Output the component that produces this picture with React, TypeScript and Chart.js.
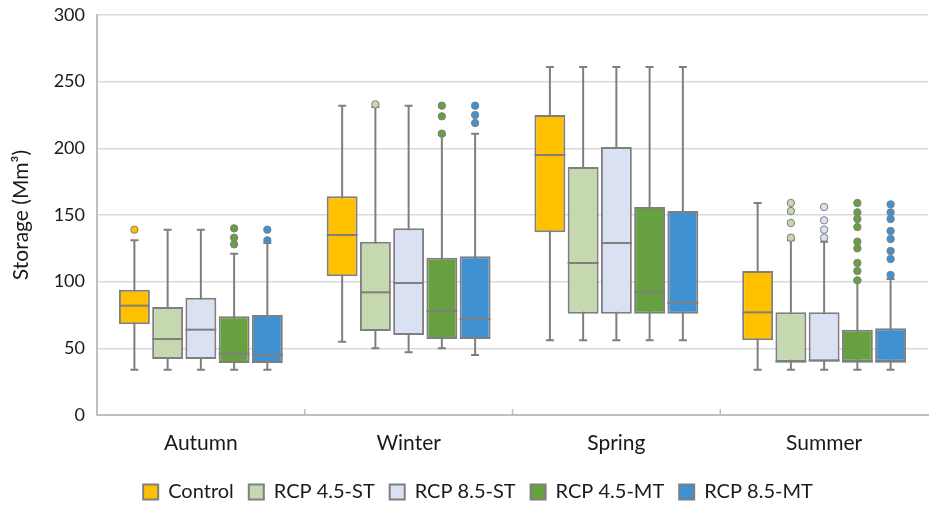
import React, { useEffect, useRef } from 'react';
import { Chart, registerables } from 'chart.js';

Chart.register(...registerables);

const categories = ['Autumn', 'Winter', 'Spring', 'Summer'];
const seriesNames = ['Control', 'RCP 4.5-ST', 'RCP 8.5-ST', 'RCP 4.5-MT', 'RCP 8.5-MT'];
const seriesColors = ['#FFC000', '#C5D8B0', '#D9E1F3', '#67A03F', '#3F91D1'];
const yTicks = [0, 50, 100, 150, 200, 250, 300];

// [min, q1, median, q3, max] for each category
const controlStats = [[34, 68, 82, 94, 131], [55, 104, 135, 164, 232], [56, 137, 195, 225, 261], [34, 56, 77, 108, 159]];
const rcp45stStats = [[34, 42, 57, 81, 139], [50, 63, 92, 130, 231], [56, 76, 114, 186, 261], [34, 40, 40, 77, 131]];
const rcp85stStats = [[34, 42, 64, 88, 139], [47, 60, 99, 140, 232], [56, 76, 129, 201, 261], [34, 40, 41, 77, 130]];
const rcp45mtStats = [[34, 39, 46, 74, 121], [50, 57, 78, 118, 210], [56, 76, 92, 156, 261], [34, 40, 40, 64, 101]];
const rcp85mtStats = [[34, 39, 45, 75, 129], [45, 57, 72, 119, 211], [56, 76, 84, 153, 261], [34, 40, 40, 65, 102]];

const controlOutliers = [[139], [], [], []];
const rcp45stOutliers = [[], [233], [], [159, 153, 144, 133]];
const rcp85stOutliers = [[], [], [], [156, 146, 139, 133]];
const rcp45mtOutliers = [[140, 133, 128], [232, 224, 211], [], [159, 152, 147, 141, 130, 125, 114, 108, 101]];
const rcp85mtOutliers = [[139, 131], [232, 225, 219], [], [158, 152, 147, 138, 132, 123, 117, 105]];

const allStats = [controlStats, rcp45stStats, rcp85stStats, rcp45mtStats, rcp85mtStats];
const allOutliers = [controlOutliers, rcp45stOutliers, rcp85stOutliers, rcp45mtOutliers, rcp85mtOutliers];

const LINE = '#7F7F7F';

const boxPlugin = {
  id: 'boxplotExtras',
  afterLayout(chart: any) {
    const lg = chart.legend;
    if (lg) {
      lg.left += 14;
      lg.right += 14;
      const h = lg.height;
      lg.top = 467;
      lg.bottom = 467 + h;
    }
  },
  beforeDatasetsDraw(chart: any) {
    const ctx = chart.ctx;
    const y = chart.scales.y;
    chart.data.datasets.forEach((_ds: any, di: number) => {
      const meta = chart.getDatasetMeta(di);
      const stats = allStats[di];
      meta.data.forEach((bar: any, i: number) => {
        const s = stats[i];
        const x = bar.x;
        const yMin = y.getPixelForValue(s[0]);
        const yMax = y.getPixelForValue(s[4]);
        ctx.save();
        ctx.strokeStyle = LINE;
        ctx.lineWidth = 2;
        ctx.beginPath();
        ctx.moveTo(x, yMin);
        ctx.lineTo(x, yMax);
        ctx.moveTo(x - 4, yMin);
        ctx.lineTo(x + 4, yMin);
        ctx.moveTo(x - 4, yMax);
        ctx.lineTo(x + 4, yMax);
        ctx.stroke();
        ctx.restore();
      });
    });
  },
  afterDatasetsDraw(chart: any) {
    const ctx = chart.ctx;
    const y = chart.scales.y;
    chart.data.datasets.forEach((_ds: any, di: number) => {
      const meta = chart.getDatasetMeta(di);
      const stats = allStats[di];
      const outs = allOutliers[di];
      meta.data.forEach((bar: any, i: number) => {
        const s = stats[i];
        const x = bar.x;
        const w = bar.width;
        const yMed = y.getPixelForValue(s[2]);
        ctx.save();
        ctx.strokeStyle = LINE;
        ctx.lineWidth = 2;
        ctx.beginPath();
        ctx.moveTo(x - w / 2, yMed);
        ctx.lineTo(x + w / 2, yMed);
        ctx.stroke();
        outs[i].forEach((v: number) => {
          ctx.beginPath();
          ctx.arc(x, y.getPixelForValue(v), 3.7, 0, Math.PI * 2);
          ctx.fillStyle = seriesColors[di];
          ctx.fill();
          ctx.lineWidth = 1;
          ctx.strokeStyle = LINE;
          ctx.stroke();
        });
        ctx.restore();
      });
    });
  },
  afterDraw(chart: any) {
    const ctx = chart.ctx;
    const area = chart.chartArea;
    const n = categories.length;
    ctx.save();
    ctx.strokeStyle = '#BFBFBF';
    ctx.lineWidth = 1.5;
    ctx.beginPath();
    for (let i = 1; i < n; i++) {
      const x = area.left + (i * (area.right - area.left)) / n;
      ctx.moveTo(x, area.bottom - 6);
      ctx.lineTo(x, area.bottom);
    }
    ctx.stroke();
    ctx.restore();
  },
};

export default function App() {
  const ref = useRef<HTMLCanvasElement | null>(null);

  useEffect(() => {
    if (!ref.current) return;
    Chart.defaults.font.family = 'Lato';
    Chart.defaults.color = '#1a1a1a';
    const chart = new Chart(ref.current, {
      type: 'bar',
      data: {
        labels: categories,
        datasets: seriesNames.map((name, di) => ({
          label: name,
          data: allStats[di].map((s) => [s[1], s[3]]),
          backgroundColor: seriesColors[di],
          borderColor: LINE,
          borderWidth: 2,
          borderSkipped: false,
          categoryPercentage: 0.8,
          barPercentage: 0.93,
        })) as any,
      },
      options: {
        animation: false,
        responsive: true,
        maintainAspectRatio: false,
        events: [],
        layout: { padding: { left: 0, right: 1, top: 15, bottom: -15 } },
        plugins: {
          tooltip: { enabled: false },
          legend: {
            position: 'bottom',
            labels: {
              boxWidth: 15,
              boxHeight: 15,
              padding: 15,
              font: { size: 20 },
              color: '#1a1a1a',
            },
          },
        },
        scales: {
          x: {
            afterFit: (scale: any) => {
              scale.height = 60;
            },
            grid: { display: true, drawOnChartArea: false, drawTicks: false },
            border: { color: '#BFBFBF', width: 2 },
            ticks: { font: { size: 21 }, padding: 16 },
          },
          y: {
            min: 0,
            max: 300,
            afterBuildTicks: (scale: any) => {
              scale.ticks = yTicks.map((v) => ({ value: v }));
            },
            afterFit: (scale: any) => {
              scale.width = 97;
              scale.paddingTop = 0;
              scale.paddingBottom = 0;
            },
            grid: { color: '#D9D9D9', lineWidth: 1.5, drawTicks: false },
            border: { color: '#BFBFBF', width: 2 },
            ticks: { font: { size: 18 }, padding: 12 },
            title: {
              display: true,
              text: 'Storage (Mm³)',
              font: { size: 21 },
              padding: { top: 9, bottom: 0 },
            },
          },
        },
      },
      plugins: [boxPlugin],
    });
    return () => chart.destroy();
  }, []);

  return (
    <div style={{ position: 'fixed', left: 0, top: 0, width: 929, height: 505, background: '#fff' }}>
      <canvas ref={ref} />
    </div>
  );
}
